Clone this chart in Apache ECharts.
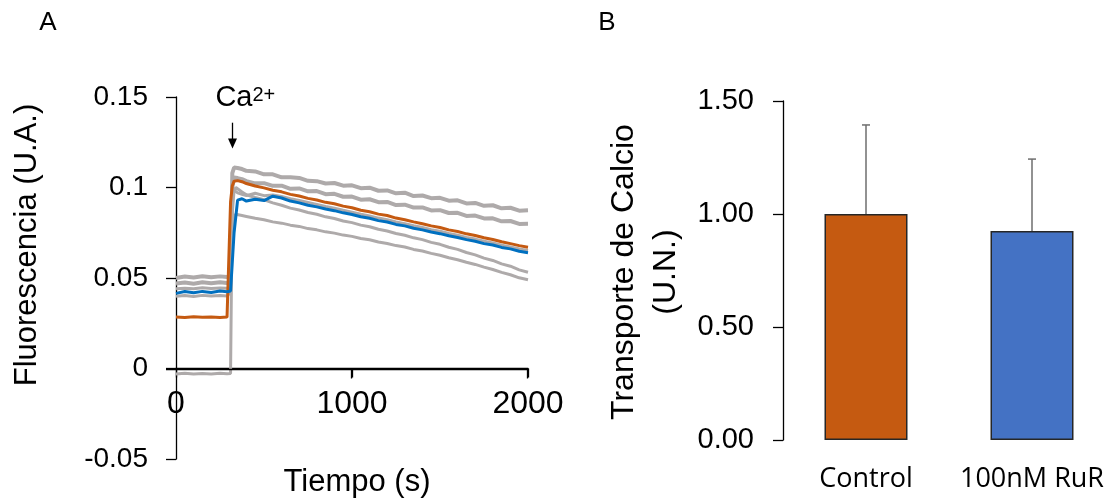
<!DOCTYPE html>
<html><head><meta charset="utf-8">
<script src="https://cdn.jsdelivr.net/npm/echarts@6/dist/echarts.min.js"></script>
<style>html,body{margin:0;padding:0;background:#fff}#c{width:1118px;height:499px}</style>
</head><body><div id="c"></div>
<script>
// ---- Panel A data (time in s, fluorescence in U.A.) ----
const timeS = [0,50,100,150,200,250,290,300,310,320,330,340,350,375,400,450,500,550,600,650,700,750,800,850,900,950,1000,1050,1100,1150,1200,1250,1300,1350,1400,1450,1500,1550,1600,1650,1700,1750,1800,1850,1900,1950,2000];

const controlTrace = [0.0285,0.0282,0.0286,0.0283,0.0285,0.0282,0.0284,0.0285,0.092,0.101,0.1035,0.104,0.1038,0.1032,0.1022,
  0.1008,0.0998,0.0985,0.0976,0.0962,0.0953,0.0940,0.0931,0.0918,0.0910,0.0897,0.0888,0.0874,0.0866,0.0853,0.0845,0.0831,0.0822,0.0810,0.0800,0.0788,0.0779,0.0766,0.0757,0.0744,0.0735,0.0722,0.0713,0.0700,0.0690,0.0679,0.0670];

const rurTrace = [0.0415,0.0425,0.0418,0.0426,0.0420,0.0428,0.0424,0.0427,0.0428,0.0430,0.0750,0.0760,0.0930,0.0938,0.0925,
  0.0935,0.0928,0.0952,0.0942,0.0925,0.0915,0.0902,0.0893,0.0881,0.0872,0.0860,0.0851,0.0838,0.0830,0.0817,0.0809,0.0796,0.0788,0.0775,0.0766,0.0754,0.0745,0.0733,0.0724,0.0712,0.0703,0.0690,0.0682,0.0669,0.0661,0.0648,0.0640];

const grayTrace1 = [0.0500,0.0508,0.0503,0.0510,0.0504,0.0509,0.0505,0.0508,0.0512,0.1080,0.1110,0.1118,0.1108,0.1102,0.1092,
  0.1089,0.1073,0.1073,0.1056,0.1057,0.1053,0.1037,0.1035,0.1022,0.1025,0.1010,0.1012,0.0996,0.0999,0.0982,0.0984,0.0968,0.0971,0.0953,0.0956,0.0941,0.0943,0.0927,0.0929,0.0912,0.0915,0.0899,0.0902,0.0885,0.0888,0.0872,0.0874];

const grayTrace2 = [0.0470,0.0475,0.0468,0.0476,0.0471,0.0477,0.0472,0.0475,0.0478,0.1000,0.1055,0.1066,0.1052,0.1046,0.1035,
  0.1023,0.1024,0.1009,0.1010,0.0993,0.0995,0.0979,0.0980,0.0963,0.0965,0.0949,0.0950,0.0933,0.0935,0.0919,0.0920,0.0903,0.0905,0.0889,0.0890,0.0873,0.0875,0.0859,0.0860,0.0843,0.0845,0.0829,0.0830,0.0813,0.0815,0.0799,0.0800];

const grayTrace3 = [0.0440,0.0444,0.0441,0.0446,0.0442,0.0445,0.0443,0.0445,0.0447,0.0860,0.0985,0.1000,0.0990,0.0975,0.0960,
  0.0945,0.0932,0.0915,0.0902,0.0886,0.0876,0.0862,0.0852,0.0838,0.0829,0.0815,0.0806,0.0792,0.0783,0.0769,0.0760,0.0746,0.0736,0.0722,0.0712,0.0697,0.0686,0.0670,0.0658,0.0641,0.0628,0.0610,0.0597,0.0578,0.0565,0.0545,0.0532];

const grayTrace4 = [0.0399,0.0403,0.0398,0.0404,0.0400,0.0403,0.0401,0.0403,0.0420,0.0780,0.0840,0.0852,0.0848,0.0845,0.0840,
  0.0830,0.0822,0.0810,0.0803,0.0792,0.0785,0.0773,0.0766,0.0755,0.0748,0.0737,0.0730,0.0718,0.0711,0.0699,0.0691,0.0679,0.0671,0.0658,0.0649,0.0636,0.0626,0.0612,0.0601,0.0587,0.0575,0.0560,0.0547,0.0531,0.0518,0.0501,0.0490];

const grayTrace5 = [-0.0030,-0.0026,-0.0031,-0.0027,-0.0030,-0.0026,-0.0029,-0.0027,-0.0028,0.0960,0.0985,0.0978,0.0970,0.0962,0.0955,
  0.0968,0.0955,0.0958,0.0950,0.0938,0.0928,0.0917,0.0906,0.0895,0.0885,0.0874,0.0864,0.0852,0.0843,0.0831,0.0822,0.0810,0.0800,0.0789,0.0779,0.0767,0.0758,0.0746,0.0736,0.0724,0.0715,0.0703,0.0693,0.0681,0.0672,0.0660,0.0652];

const grayTraces = [grayTrace1, grayTrace2, grayTrace3, grayTrace4, grayTrace5];
const caAdditionTime = 320;
const timeMin = 0, timeMax = 2000, timeStep = 1000;
const timeTicks = [1000, 2000];
const fluorMin = -0.05, fluorMax = 0.15, fluorStep = 0.05;

// ---- Panel B data ----
const barCategories = ['Control', '100nM RuR'];
const barValues = [1.00, 0.925];
const barErrors = [0.394, 0.318];
const barColors = ['#C55A11', '#4472C4'];

const zip = arr => timeS.map((t, i) => [t, arr[i]]);
const ARIAL = 'Liberation Sans';
const H = 499, gridA = {left: 176, right: 590, top: 97, bottom: 40};
// distance (px) between the zero line and the bottom of panel A's plot area
const zeroLift = (H - gridA.top - gridA.bottom) * (0 - fluorMin) / (fluorMax - fluorMin);
// a twin of panel A's area whose bottom edge sits on fluorescence = 0, carrying the time labels
const gridAxis = {left: gridA.left, right: gridA.right, top: gridA.top, bottom: gridA.bottom + zeroLift};

const chart = echarts.init(document.getElementById('c'), null, {renderer: 'canvas'});

const axisStroke = {color: '#000', width: 1.3, type: 'solid'};
const series = [];
grayTraces.forEach((g, k) => series.push({
  type: 'line', xAxisIndex: 0, yAxisIndex: 0, data: zip(g), showSymbol: false,
  lineStyle: {color: '#AEAAAA', width: k < 2 ? 4 : 3}, z: 2, silent: true
}));
series.push({type: 'line', xAxisIndex: 0, yAxisIndex: 0, data: zip(controlTrace), showSymbol: false,
  lineStyle: {color: '#C55A11', width: 3}, z: 3, silent: true});
series.push({type: 'line', xAxisIndex: 0, yAxisIndex: 0, data: zip(rurTrace), showSymbol: false,
  lineStyle: {color: '#0070C0', width: 3}, z: 4, silent: true});
series.push({
  type: 'bar', xAxisIndex: 1, yAxisIndex: 1, barWidth: '50%',
  data: barValues.map((v, i) => ({value: v, itemStyle: {color: barColors[i]}})),
  itemStyle: {borderColor: '#262626', borderWidth: 1.5}, z: 2
});
series.push({
  type: 'custom', xAxisIndex: 1, yAxisIndex: 1, z: 3,
  data: barValues.map((v, i) => [i, v, v + barErrors[i]]),
  renderItem: (params, api) => {
    const base = api.coord([api.value(0), api.value(1)]);
    const top = api.coord([api.value(0), api.value(2)]);
    const st = {stroke: '#6E6E6E', lineWidth: 1.5};
    return {type: 'group', children: [
      {type: 'line', shape: {x1: base[0], y1: base[1], x2: top[0], y2: top[1]}, style: st},
      {type: 'line', shape: {x1: top[0] - 4, y1: top[1], x2: top[0] + 4, y2: top[1]}, style: st}
    ]};
  }
});
series.push({type: 'line', xAxisIndex: 2, yAxisIndex: 2, data: [], silent: true});

chart.setOption({
  animation: false,
  backgroundColor: '#fff',
  grid: [
    gridA,
    {left: 783, right: 3, top: 101, bottom: 59},
    gridAxis
  ],
  xAxis: [
    {type: 'value', gridIndex: 0, min: timeMin, max: timeMax, interval: timeStep, show: false},
    {type: 'category', gridIndex: 1, data: barCategories,
     axisLine: {show: false}, axisTick: {show: false},
     axisLabel: {fontFamily: 'Open Sans', fontSize: 27, color: '#000', margin: 26, interval: 0}},
    {type: 'value', gridIndex: 2, min: timeMin, max: timeMax, interval: timeStep, position: 'bottom',
     axisLine: {show: true, onZero: false, lineStyle: axisStroke},
     axisTick: {show: true, length: 9, lineStyle: axisStroke},
     axisLabel: {show: true, fontFamily: ARIAL, fontSize: 32, color: '#000', margin: 20, formatter: v => String(v)},
     splitLine: {show: false}}
  ],
  yAxis: [
    {type: 'value', gridIndex: 0, min: fluorMin, max: fluorMax, interval: fluorStep,
     axisLine: {show: true, lineStyle: axisStroke},
     axisTick: {show: true, length: 10, lineStyle: axisStroke},
     axisLabel: {fontFamily: ARIAL, fontSize: 28, color: '#000', margin: 28},
     splitLine: {show: false}},
    {type: 'value', gridIndex: 1, min: 0, max: 1.5, interval: 0.5,
     axisLine: {show: true, lineStyle: axisStroke},
     axisTick: {show: true, length: 10, lineStyle: axisStroke},
     axisLabel: {fontFamily: ARIAL, fontSize: 29, color: '#000', margin: 29, formatter: v => v.toFixed(2)},
     splitLine: {show: false}},
    {type: 'value', gridIndex: 2, min: 0, max: fluorMax, show: false}
  ],
  series: series
});

// annotations and the zero-line time axis, positioned from panel A's scales
const toPx = p => chart.convertToPixel({gridIndex: 0}, p);
const pTop = toPx([caAdditionTime, 0.1358]);
const pBot = toPx([caAdditionTime, 0.1215]);
const ax = Math.round(pTop[0]) + 0.5;
const z0 = toPx([timeMin, 0]);
const z1 = toPx([timeMax, 0]);
const yLine = Math.round(z0[1]) + 0.5;
const axisGraphics = [
  {type: 'line', z: 50, shape: {x1: z0[0] - 10, y1: yLine, x2: z1[0], y2: yLine}, style: {stroke: '#000', lineWidth: 1.3}}
].concat(timeTicks.map(t => {
  const px = Math.round(toPx([t, 0])[0]) - 0.5;
  return {type: 'line', z: 50, shape: {x1: px, y1: yLine, x2: px, y2: yLine + 9}, style: {stroke: '#000', lineWidth: 1.3}};
}));
const txt = (t, size, extra) => Object.assign({text: t, fontSize: size, fontFamily: ARIAL, fill: '#000', align: 'center', verticalAlign: 'middle'}, extra || {});
chart.setOption({
  graphic: axisGraphics.concat([
    {type: 'text', x: 48, y: 23, style: txt('A', 26)},
    {type: 'text', x: 607, y: 23, style: txt('B', 26)},
    {type: 'text', x: 27, y: 245, rotation: Math.PI / 2, style: txt('Fluorescencia (U.A.)', 31)},
    {type: 'text', x: 357, y: 482, style: txt('Tiempo (s)', 31)},
    {type: 'text', x: 645, y: 272, rotation: Math.PI / 2, style: txt('Transporte de Calcio\n(U.N.)', 32, {lineHeight: 42})},
    {type: 'text', x: ax + 20, y: 112, style: txt('Ca', 29, {align: 'right', verticalAlign: 'bottom'})},
    {type: 'text', x: ax + 20, y: 85, style: txt('2+', 20, {align: 'left', verticalAlign: 'top'})},
    {type: 'line', shape: {x1: ax, y1: pTop[1], x2: ax, y2: pBot[1] - 8}, style: {stroke: '#000', lineWidth: 1.3}},
    {type: 'polygon', shape: {points: [[ax - 4.5, pBot[1] - 10], [ax + 4.5, pBot[1] - 10], [ax, pBot[1]]]}, style: {fill: '#000'}}
  ])
});
</script>
</body></html>
